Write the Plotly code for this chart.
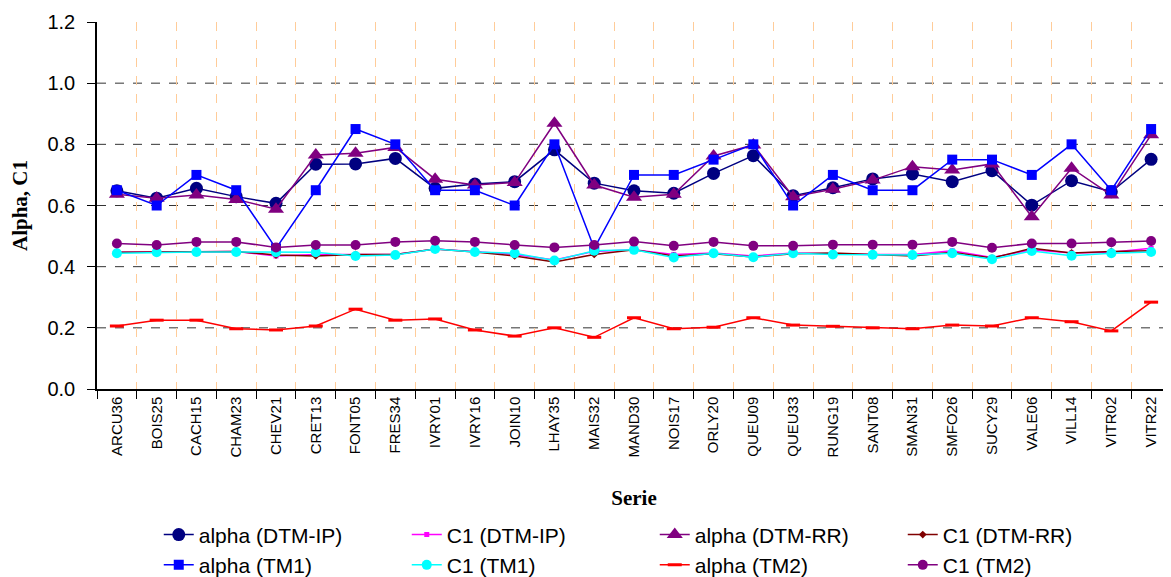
import plotly.graph_objects as go

categories = ["ARCU36", "BOIS25", "CACH15", "CHAM23", "CHEV21", "CRET13", "FONT05", "FRES34",
              "IVRY01", "IVRY16", "JOIN10", "LHAY35", "MAIS32", "MAND30", "NOIS17", "ORLY20",
              "QUEU09", "QUEU33", "RUNG19", "SANT08", "SMAN31", "SMFO26", "SUCY29", "VALE06",
              "VILL14", "VITR02", "VITR22"]

alpha_dtm_ip = [0.648, 0.624, 0.656, 0.629, 0.607, 0.735, 0.736, 0.754, 0.656, 0.670, 0.678, 0.782,
                0.673, 0.648, 0.640, 0.705, 0.763, 0.632, 0.658, 0.687, 0.703, 0.678, 0.714, 0.601,
                0.681, 0.645, 0.751]
c1_dtm_ip = [0.447, 0.448, 0.450, 0.450, 0.435, 0.440, 0.440, 0.440, 0.458, 0.450, 0.440, 0.422,
             0.450, 0.455, 0.440, 0.445, 0.435, 0.445, 0.442, 0.440, 0.440, 0.452, 0.430, 0.455,
             0.445, 0.447, 0.460]
alpha_dtm_rr = [0.637, 0.624, 0.634, 0.620, 0.588, 0.765, 0.771, 0.790, 0.686, 0.667, 0.675, 0.869,
                0.667, 0.627, 0.637, 0.762, 0.798, 0.629, 0.653, 0.683, 0.727, 0.716, 0.736, 0.563,
                0.722, 0.634, 0.831]
c1_dtm_rr = [0.447, 0.448, 0.450, 0.450, 0.438, 0.435, 0.440, 0.440, 0.458, 0.448, 0.435, 0.415,
             0.440, 0.455, 0.435, 0.442, 0.432, 0.442, 0.445, 0.440, 0.435, 0.447, 0.428, 0.460,
             0.445, 0.450, 0.452]
alpha_tm1 = [0.65, 0.60, 0.70, 0.65, 0.46, 0.65, 0.85, 0.80, 0.65, 0.65, 0.60, 0.80,
             0.46, 0.70, 0.70, 0.75, 0.80, 0.60, 0.70, 0.65, 0.65, 0.75, 0.75, 0.70,
             0.80, 0.65, 0.85]
c1_tm1 = [0.444, 0.447, 0.448, 0.448, 0.447, 0.447, 0.435, 0.438, 0.458, 0.448, 0.444, 0.420,
          0.452, 0.455, 0.430, 0.444, 0.431, 0.444, 0.440, 0.439, 0.438, 0.444, 0.424, 0.451,
          0.436, 0.444, 0.448]
alpha_tm2 = [0.206, 0.225, 0.225, 0.197, 0.193, 0.206, 0.261, 0.225, 0.229, 0.193, 0.173, 0.200,
             0.169, 0.233, 0.197, 0.202, 0.233, 0.209, 0.205, 0.200, 0.197, 0.209, 0.206, 0.233,
             0.220, 0.190, 0.284]
c1_tm2 = [0.476, 0.471, 0.481, 0.481, 0.463, 0.471, 0.471, 0.481, 0.485, 0.481, 0.471, 0.463,
          0.471, 0.482, 0.468, 0.481, 0.468, 0.468, 0.472, 0.472, 0.472, 0.481, 0.462, 0.476,
          0.476, 0.480, 0.484]

y_gridlines = [0.2, 0.4, 0.6, 0.8, 1.0]

series = [
    ("alpha (DTM-IP)", alpha_dtm_ip, "#000080", "circle", 13, 0),
    ("C1 (DTM-IP)", c1_dtm_ip, "#FF00FF", "square", 5, 0),
    ("alpha (DTM-RR)", alpha_dtm_rr, "#800080", "triangle-up", 14, 0),
    ("C1 (DTM-RR)", c1_dtm_rr, "#800000", "diamond", 6, 0),
    ("alpha (TM1)", alpha_tm1, "#0000FF", "square", 10, 0),
    ("C1 (TM1)", c1_tm1, "#00FFFF", "circle", 10, 0),
    ("alpha (TM2)", alpha_tm2, "#FF0000", "line-ew", 10, 3),
    ("C1 (TM2)", c1_tm2, "#800080", "circle", 10, 0),
]

fig = go.Figure()
for name, vals, color, sym, size, lw in series:
    marker = dict(symbol=sym, size=size, color=color)
    if sym == "line-ew":
        marker["line"] = dict(color=color, width=lw)
    else:
        marker["line"] = dict(width=0)
    fig.add_trace(go.Scatter(x=categories, y=vals, name=name, mode="lines+markers",
                             line=dict(color=color, width=1.5), marker=marker))

for gv in y_gridlines:
    fig.add_shape(type="line", xref="paper", x0=0, x1=1, yref="y", y0=gv, y1=gv,
                  line=dict(color="#333333", width=1, dash="dash"), layer="below")

fig.update_layout(
    width=1163, height=569,
    margin=dict(l=89, r=0, t=14, b=188),
    paper_bgcolor="white", plot_bgcolor="white",
    font=dict(family="Liberation Sans, Arial, sans-serif", color="black"),
    showlegend=True,
    legend=dict(orientation="h", x=0.0575, xanchor="left",
                yref="container", y=0.11, yanchor="top",
                font=dict(size=21, family="Liberation Sans, Arial, sans-serif"),
                entrywidth=203, entrywidthmode="pixels", itemwidth=30,
                tracegroupgap=0, bgcolor="rgba(0,0,0,0)"),
    xaxis=dict(
        type="category", range=[-0.5, 26.5], automargin=False,
        tickson="boundaries", ticks="outside", ticklen=8, tickwidth=1, tickcolor="black",
        showgrid=True, gridcolor="#FFCC99", griddash="dash", gridwidth=1,
        showline=True, linecolor="black", linewidth=1.5,
        tickangle=-90, tickfont=dict(size=15),
        title=dict(text="<b>Serie</b>", font=dict(family="Liberation Serif, Times New Roman, serif", size=21),
                   standoff=34),
    ),
    yaxis=dict(
        range=[0, 1.2], dtick=0.2, tickformat=".1f", automargin=False,
        ticks="outside", ticklen=8, tickwidth=1, tickcolor="black",
        showgrid=False, zeroline=False, ticklabelstandoff=8,
        showline=True, linecolor="black", linewidth=1.5,
        tickfont=dict(size=20),
        title=dict(text="<b>Alpha, C1</b>", font=dict(family="Liberation Serif, Times New Roman, serif", size=21),
                   standoff=15),
    ),
)

fig.write_html("out.html")
